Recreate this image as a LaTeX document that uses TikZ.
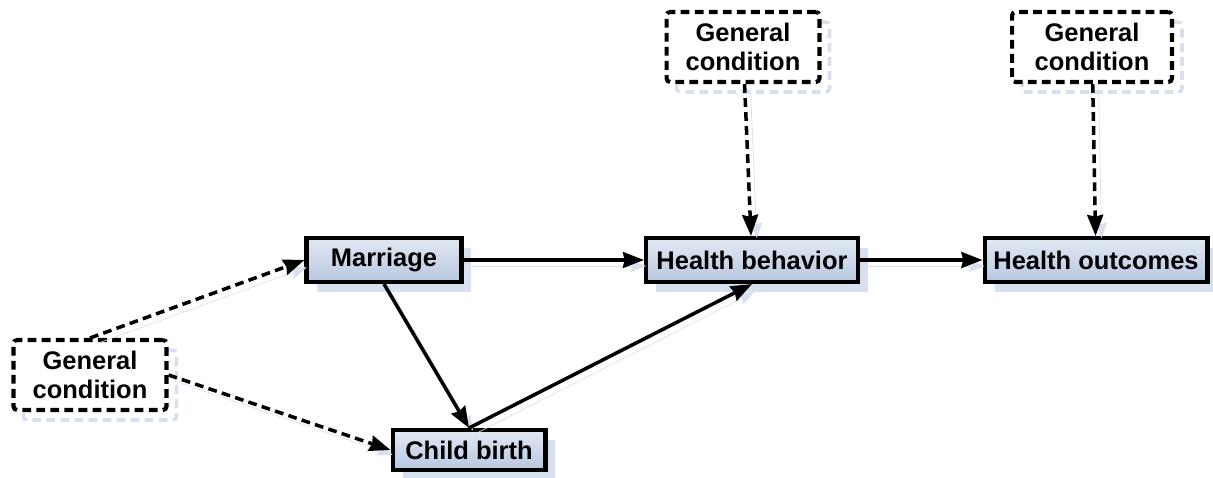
\documentclass[tikz,border=0pt]{standalone}
\usepackage{fontspec}
\setmainfont{Liberation Sans}
\usetikzlibrary{positioning,shadows,arrows.meta}
\definecolor{BoxTop}{HTML}{E3E9F4}
\definecolor{BoxBot}{HTML}{B7C6DF}
\definecolor{BoxShade}{HTML}{D8E0EF}

\begin{document}
\begin{tikzpicture}[>={Stealth[inset=1pt]},x=0.02cm,y=-0.02cm]
  \tikzstyle{factor}=[draw=black,line width=2.3pt,top color=BoxTop,bottom color=BoxBot,
    inner sep=2pt,minimum height=0.88cm,
    font=\fontsize{14.5}{16}\selectfont\bfseries,
    general shadow={shadow xshift=0.2cm,shadow yshift=-0.2cm,fill=BoxShade}]
  \tikzstyle{cond}=[draw=black,line width=2.3pt,dash pattern=on 5pt off 3pt,fill=white,
    rounded corners=2pt,align=center,minimum width=3.06cm,minimum height=1.4cm,
    font=\fontsize{14.5}{16.5}\selectfont\bfseries,
    general shadow={shadow xshift=0.2cm,shadow yshift=-0.2cm,draw=BoxShade,
      line width=2pt,dash pattern=on 5pt off 3pt}]
  \tikzstyle{link}=[->,line width=2pt,
    preaction={draw=BoxShade,transform canvas={shift={(0.12cm,-0.12cm)}}}]
  \tikzstyle{cause}=[->,line width=2pt,dash pattern=on 5pt off 3pt,
    preaction={draw=BoxShade,transform canvas={shift={(0.12cm,-0.12cm)}}}]
  \useasboundingbox (0,0) rectangle (1213,477);
  \node[factor,minimum width=3.1cm] (mar) at (384,260) {Marriage};
  \node[factor,minimum width=4.24cm] (beh) at (752,260) {Health behavior};
  \node[factor,minimum width=4.46cm] (out) at (1096,260) {Health outcomes};
  \node[factor,minimum width=3.06cm,minimum height=0.8cm] (birth) at (469,450) {Child birth};
  \node[cond] (gc1) at (90,375) {General\\condition};
  \node[cond] (gc2) at (743,47) {General\\condition};
  \node[cond,minimum width=3.2cm] (gc3) at (1092,47) {General\\condition};
  \draw[link] (mar)--(beh);
  \draw[link] (beh)--(out);
  \draw[link] (mar.south)--(birth.north);
  \draw[link] (birth.north)--(beh.south);
  \draw[cause] (gc1.north)--(mar.west);
  \draw[cause] (gc1.east)--(birth.west);
  \draw[cause] (gc2)--(beh);
  \draw[cause] (gc3)--(out);
\end{tikzpicture}
\end{document}
